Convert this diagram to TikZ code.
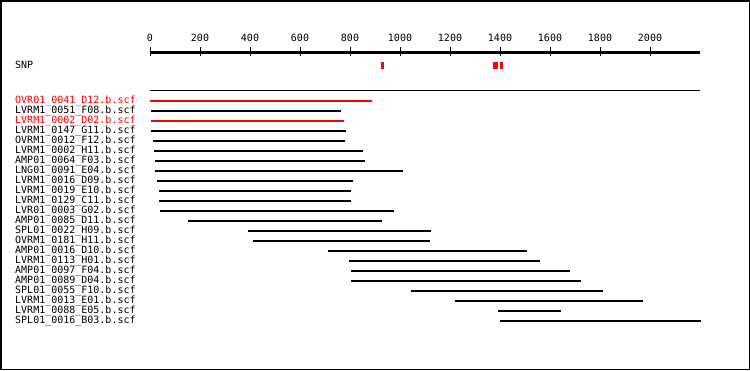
\documentclass[tikz,border=0pt]{standalone}
\usepackage{fontspec}
\setmonofont{DejaVu Sans Mono}
\usetikzlibrary{positioning}

\tikzset{
  lbl/.style={font=\ttfamily\fontsize{10}{10}\selectfont, inner sep=0pt, anchor=base west},
  ticklbl/.style={font=\ttfamily\fontsize{10}{10}\selectfont, inner sep=0pt, anchor=base},
  bar/.style={line width=2pt},
}

\begin{document}
\begin{tikzpicture}[x=1pt, y=-1pt]
  \useasboundingbox (0,0) rectangle (750,370);
  \draw[line width=1.5pt] (0.75,0.75) rectangle (749.25,369.25);
  \draw[line width=3pt] (150,52.5) -- (700,52.5);
  \foreach \v in {0,200,...,2000} {
    \draw[line width=1pt] (150+\v/4,47) -- (150+\v/4,56);
    \node[ticklbl] (t\v) at (150+\v/4,41) {\v};
  }
  \node[lbl] (snp) at (15,68.5) {SNP};
  \fill[red] (381,62) rectangle (384,69);
  \fill[red] (493,62) rectangle (498,69);
  \fill[red] (500,62) rectangle (503,69);
  \draw[line width=1pt] (150,90.5) -- (700,90.5);
  \foreach \name/\s/\e/\c [count=\i from 0] in {
      OVR01\_0041\_D12.b.scf/150/372/red,
      LVRM1\_0051\_F08.b.scf/151/341/black,
      LVRM1\_0002\_D02.b.scf/151/344/red,
      LVRM1\_0147\_G11.b.scf/151/346/black,
      OVRM1\_0012\_F12.b.scf/153/345/black,
      LVRM1\_0002\_H11.b.scf/154/363/black,
      AMP01\_0064\_F03.b.scf/155/365/black,
      LNG01\_0091\_E04.b.scf/155/403/black,
      LVRM1\_0016\_D09.b.scf/157/353/black,
      LVRM1\_0019\_E10.b.scf/159/351/black,
      LVRM1\_0129\_C11.b.scf/159/351/black,
      LVR01\_0003\_G02.b.scf/160/394/black,
      AMP01\_0085\_D11.b.scf/188/382/black,
      SPL01\_0022\_H09.b.scf/248/431/black,
      OVRM1\_0181\_H11.b.scf/253/430/black,
      AMP01\_0016\_D10.b.scf/328/527/black,
      LVRM1\_0113\_H01.b.scf/349/540/black,
      AMP01\_0097\_F04.b.scf/351/570/black,
      AMP01\_0089\_D04.b.scf/351/581/black,
      SPL01\_0055\_F10.b.scf/411/603/black,
      LVRM1\_0013\_E01.b.scf/455/643/black,
      LVRM1\_0088\_E05.b.scf/498/561/black,
      SPL01\_0016\_B03.b.scf/500/701/black} {
    \node[lbl, text=\c] (r\i) at (15,103.5+10*\i) {\name};
    \draw[bar, \c] (\s,100.7+10*\i) -- (\e,100.7+10*\i);
  }
\end{tikzpicture}
\end{document}
